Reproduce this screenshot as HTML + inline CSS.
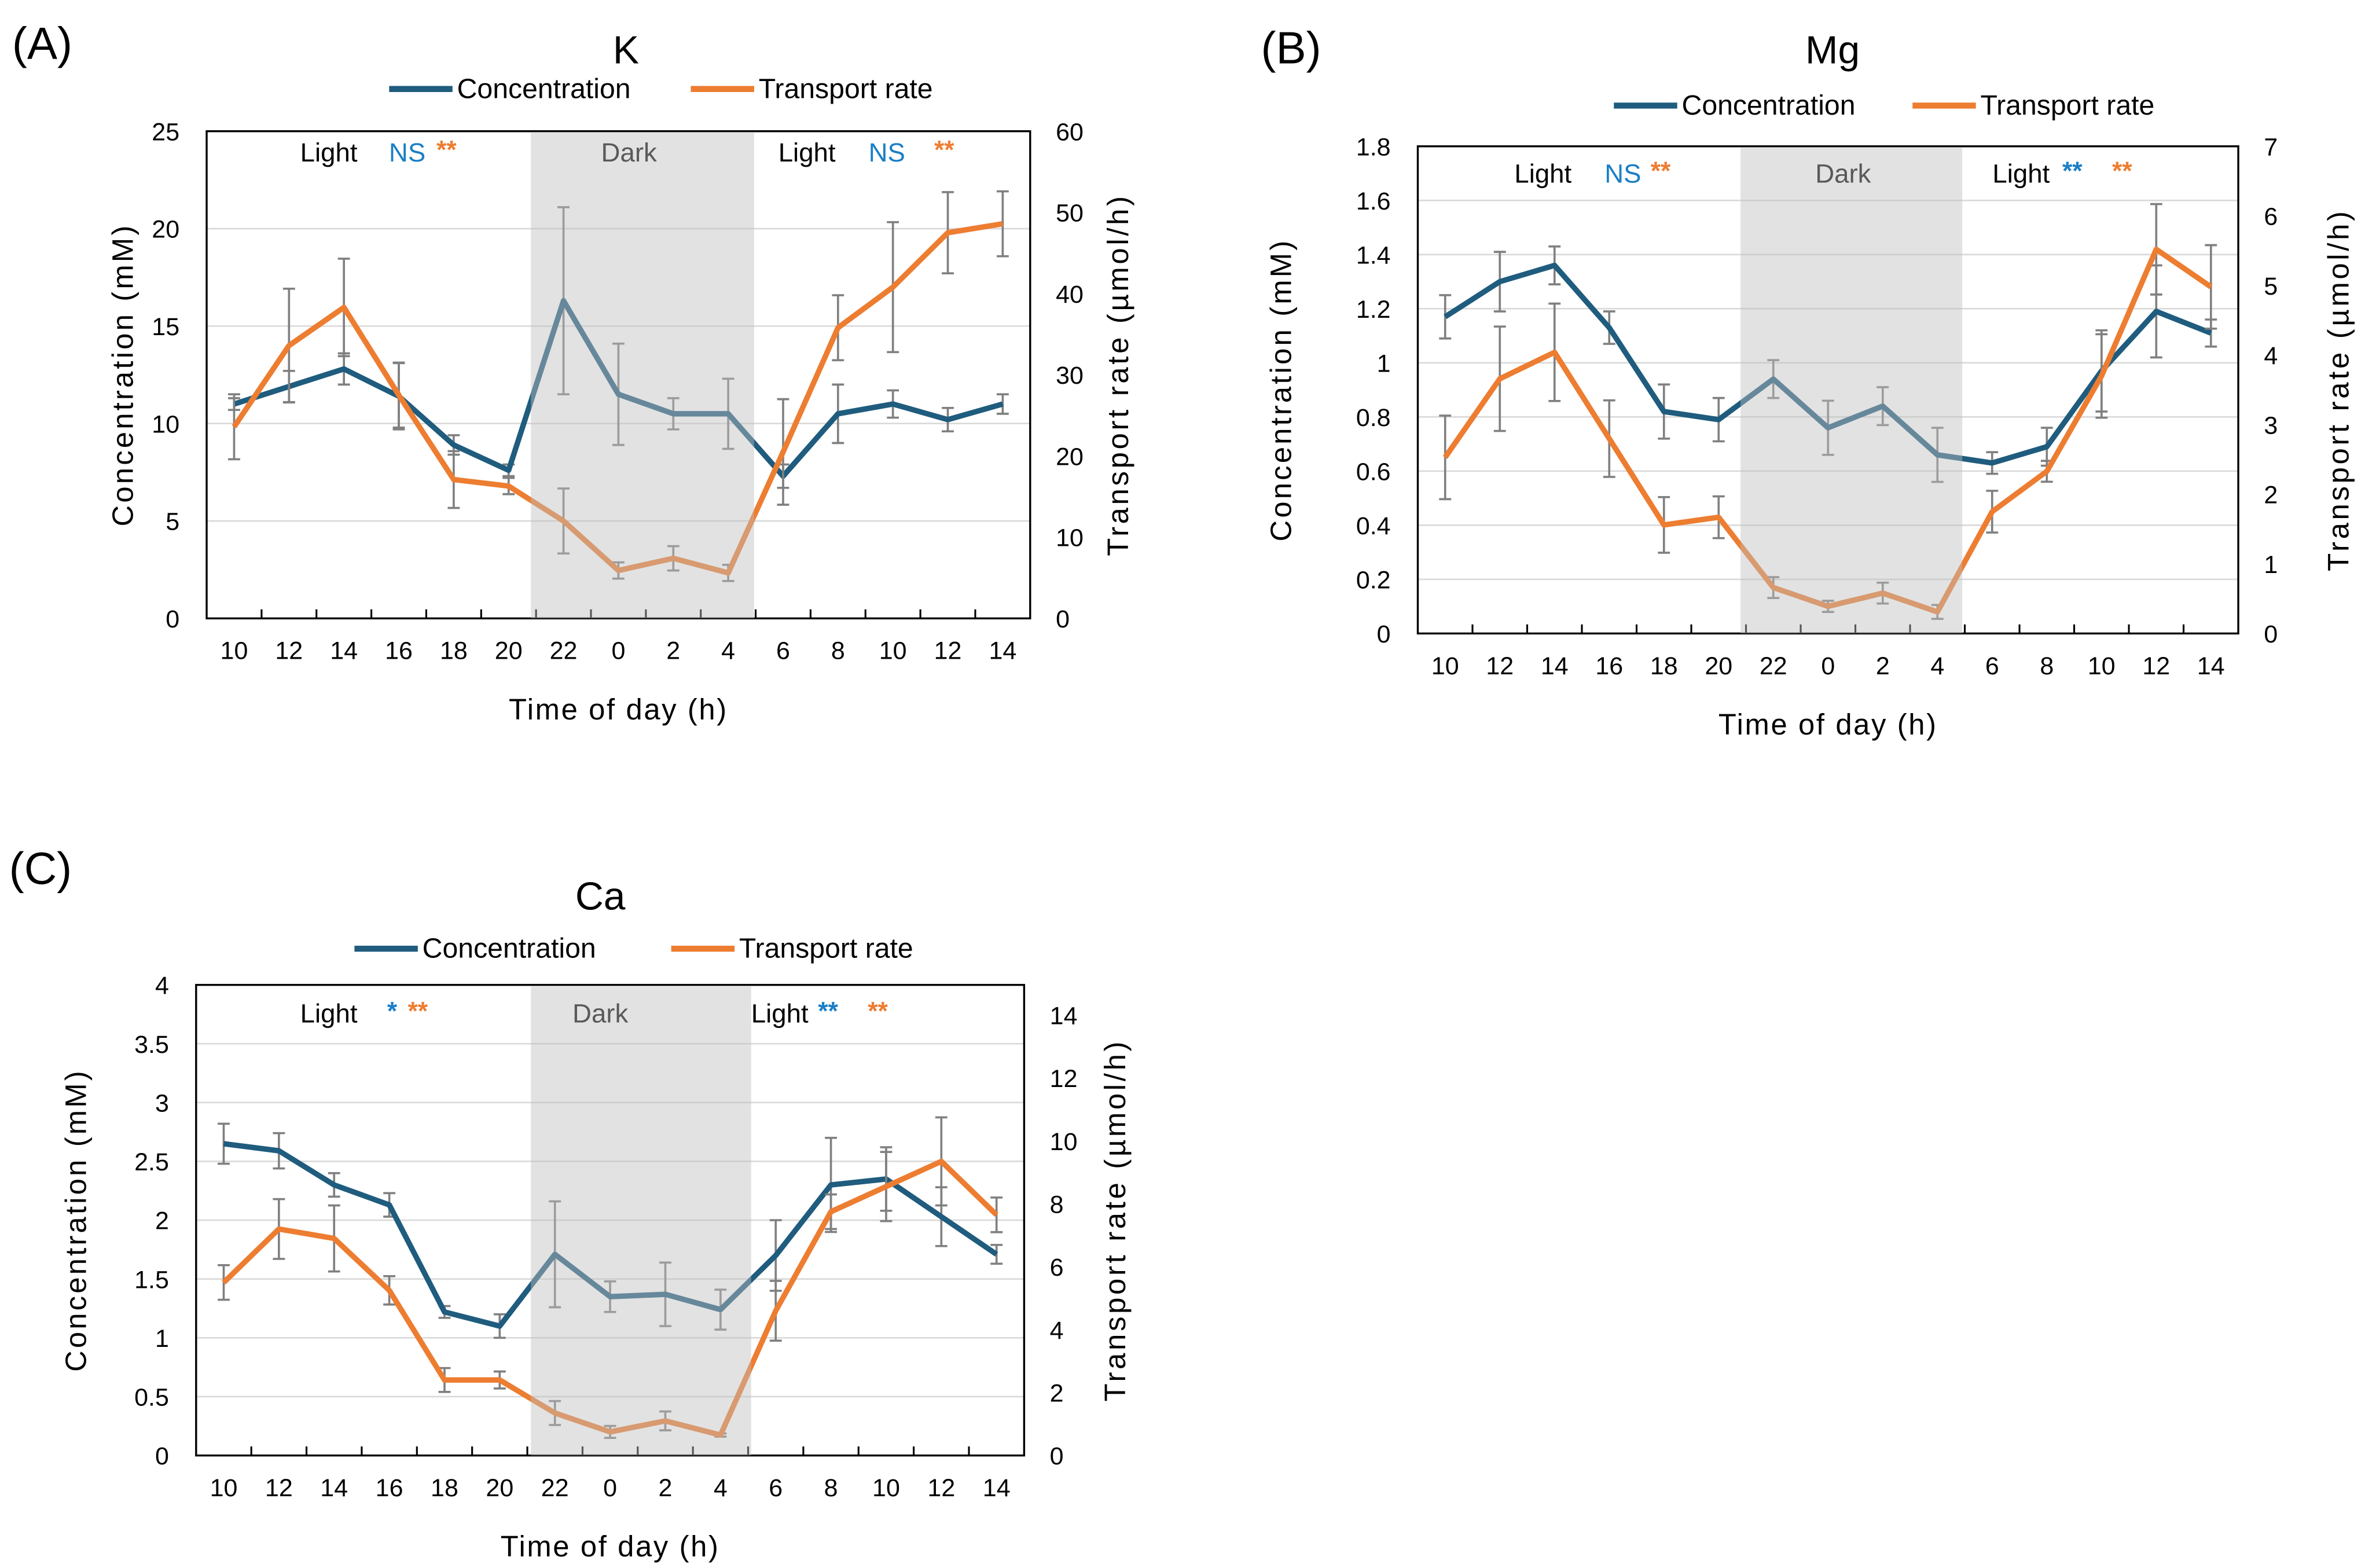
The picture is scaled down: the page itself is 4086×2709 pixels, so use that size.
<!DOCTYPE html>
<html><head><meta charset="utf-8"><style>
html,body{margin:0;padding:0;background:#fff}
svg{display:block}
text{font-family:"Liberation Sans",sans-serif}
</style></head><body>
<svg id="fig" width="4086" height="2709" viewBox="0 0 1568 1039.6" xmlns="http://www.w3.org/2000/svg"></svg>
<script>
const categories=["10","12","14","16","18","20","22","0","2","4","6","8","10","12","14"];
const kConc=[11.0,11.9,12.8,11.4,8.9,7.6,16.3,11.5,10.5,10.5,7.3,10.5,11.0,10.2,11.0];
const kConcErr=[0.3,0.8,0.8,1.7,0.5,0.3,4.8,2.6,0.8,1.8,0.6,1.5,0.7,0.6,0.5];
const kRate=[23.6,33.6,38.3,27.5,17.1,16.3,12.0,5.9,7.4,5.6,20.5,35.8,40.8,47.5,48.6];
const kRateErr=[4,7,6,4,3.5,1,4,1,1.5,1,6.5,4,8,5,4];
const mgConc=[1.17,1.30,1.36,1.13,0.82,0.79,0.94,0.76,0.84,0.66,0.63,0.69,0.97,1.19,1.11];
const mgConcErr=[0.08,0.11,0.07,0.06,0.1,0.08,0.07,0.1,0.07,0.1,0.04,0.07,0.15,0.17,0.05];
const mgRate=[2.53,3.66,4.04,2.8,1.56,1.67,0.66,0.39,0.58,0.31,1.75,2.33,3.7,5.52,4.98];
const mgRateErr=[0.6,0.75,0.7,0.55,0.4,0.3,0.15,0.08,0.15,0.1,0.3,0.15,0.6,0.65,0.6];
const caConc=[2.65,2.59,2.30,2.13,1.22,1.10,1.71,1.35,1.37,1.24,1.70,2.30,2.35,2.03,1.71];
const caConcErr=[0.17,0.15,0.1,0.1,0.05,0.1,0.45,0.13,0.27,0.17,0.3,0.4,0.27,0.25,0.08];
const caRate=[5.5,7.2,6.9,5.25,2.4,2.4,1.35,0.75,1.1,0.65,4.6,7.75,8.55,9.35,7.65];
const caRateErr=[0.55,0.95,1.05,0.45,0.38,0.27,0.38,0.19,0.3,0.05,0.95,0.55,1.1,1.4,0.55];
const kLeftTicks=["0","5","10","15","20","25"], kRightTicks=["0","10","20","30","40","50","60"];
const mgLeftTicks=["0","0.2","0.4","0.6","0.8","1","1.2","1.4","1.6","1.8"], mgRightTicks=["0","1","2","3","4","5","6","7"];
const caLeftTicks=["0","0.5","1","1.5","2","2.5","3","3.5","4"], caRightTicks=["0","2","4","6","8","10","12","14"];

const NS="http://www.w3.org/2000/svg";
const svg=document.getElementById('fig');
const BLUE="#1f5c7e",ORANGE="#ed7d31",SBLUE="#1a7fc6";
function mk(tag,attrs,parent,txt){const e=document.createElementNS(NS,tag);for(const k in attrs)e.setAttribute(k,attrs[k]);if(txt!==undefined)e.textContent=txt;(parent||svg).appendChild(e);return e;}

function panel(p){
  const g=mk('g',{});
  
  
  const W=p.x1-p.x0,H=p.y1-p.y0,n=categories.length,step=W/n;
  const xs=i=>p.x0+step*(i+0.5);
  const yl=v=>p.y1-v/p.lmax*H;
  const yr=v=>p.y1-v/p.rmax*H;
  p.lt.forEach(t=>{const v=parseFloat(t);if(v>0&&v<p.lmax){const l=mk('line',{x1:p.x0,x2:p.x1,y1:yl(v),y2:yl(v),stroke:'#d9d9d9','stroke-width':1},g);}});
  const fr=mk('rect',{x:p.x0,y:p.y0,width:W,height:H,fill:'none',stroke:'#000','stroke-width':1.3},g);
  
  for(let i=1;i<n;i++)mk('line',{x1:p.x0+step*i,x2:p.x0+step*i,y1:p.y1,y2:p.y1-6,stroke:'#000','stroke-width':1.2},g);
  p.lt.forEach(t=>{const e=mk('text',{x:p.x0-18,y:yl(parseFloat(t))+6,'text-anchor':'end','font-size':16.5},g,t);});
  p.rt.forEach(t=>{const e=mk('text',{x:p.x1+17,y:yr(parseFloat(t))+6,'text-anchor':'start','font-size':16.5},g,t);});
  categories.forEach((c,i)=>{const e=mk('text',{x:xs(i),y:p.y1+27,'text-anchor':'middle','font-size':16.5},g,c);});
  let e;
  e=mk('text',{x:(p.x0+p.x1)/2,y:p.y1+67,'text-anchor':'middle','font-size':19.5,'letter-spacing':1},g,'Time of day (h)');
  e=mk('text',{x:0,y:0,'text-anchor':'middle','font-size':19.5,'letter-spacing':1.6,transform:`translate(${p.ylx},${(p.y0+p.y1)/2}) rotate(-90)`},g,'Concentration (mM)');
  e=mk('text',{x:0,y:0,'text-anchor':'middle','font-size':19.5,'letter-spacing':1.8,transform:`translate(${p.yrx},${(p.y0+p.y1)/2}) rotate(-90)`},g,'Transport rate (µmol/h)');
  e=mk('text',{x:p.tx,y:p.ty,'text-anchor':'middle','font-size':26},g,p.title);
  e=mk('text',{x:p.lx,y:p.ly,'font-size':30},g,p.label);
  e=mk('line',{x1:p.leg1,x2:p.leg1+42,y1:p.legy,y2:p.legy,stroke:BLUE,'stroke-width':4},g);
  e=mk('text',{x:p.leg1+45,y:p.legy+6,'font-size':18.5},g,'Concentration');
  e=mk('line',{x1:p.leg2,x2:p.leg2+42,y1:p.legy,y2:p.legy,stroke:ORANGE,'stroke-width':4},g);
  e=mk('text',{x:p.leg2+45,y:p.legy+6,'font-size':18.5},g,'Transport rate');
  function series(vals,errs,yf,col,name){
    vals.forEach((v,i)=>{const x=xs(i),a=yf(v-errs[i]),b=yf(v+errs[i]);
      const eb=mk('path',{d:`M${x},${a}V${b}M${x-4},${a}H${x+4}M${x-4},${b}H${x+4}`,stroke:'#808080','stroke-width':1.4,fill:'none'},g);
      });
    const pl=mk('polyline',{points:vals.map((v,i)=>xs(i)+','+yf(v)).join(' '),fill:'none',stroke:col,'stroke-width':3.6,'stroke-linejoin':'round'},g);
    
  }
  series(p.cv,p.ce,yl,BLUE,'concentration');
  series(p.rv,p.re,yr,ORANGE,'transport-rate');
  e=mk('rect',{x:p.d0,y:p.y0+1,width:p.d1-p.d0,height:H-1,fill:'#bfbfbf','fill-opacity':0.45},g);
  const ay=p.ay;
  p.ann.forEach(a=>{const t=mk('text',{x:a[0],y:ay+(a[3]?4:6),'text-anchor':'middle','font-size':a[3]?17:17.5,'font-weight':a[3]?'bold':'normal',fill:a[2]},g,a[1]);});
}
panel({id:'k',x0:137,x1:683,y0:87,y1:410,lmax:25,rmax:60,lt:kLeftTicks,rt:kRightTicks,cv:kConc,ce:kConcErr,rv:kRate,re:kRateErr,
 d0:352,d1:500,title:'K',tx:415,ty:42,label:'(A)',lx:8,ly:39,leg1:258,leg2:458,legy:59,ylx:88,yrx:748,ay:101,
 ann:[[218,'Light','#000'],[270,'NS',SBLUE],[296,'**',ORANGE,1],[417,'Dark','#595959'],[535,'Light','#000'],[588,'NS',SBLUE],[626,'**',ORANGE,1]]});
panel({id:'mg',x0:940,x1:1484,y0:97,y1:420,lmax:1.8,rmax:7,lt:mgLeftTicks,rt:mgRightTicks,cv:mgConc,ce:mgConcErr,rv:mgRate,re:mgRateErr,
 d0:1154,d1:1301,title:'Mg',tx:1215,ty:42,label:'(B)',lx:836,ly:42,leg1:1070,leg2:1268,legy:70,ylx:856,yrx:1557,ay:115,
 ann:[[1023,'Light','#000'],[1076,'NS',SBLUE],[1101,'**',ORANGE,1],[1222,'Dark','#595959'],[1340,'Light','#000'],[1374,'**',SBLUE,1],[1407,'**',ORANGE,1]]});
panel({id:'ca',x0:130,x1:679,y0:653,y1:965,lmax:4,rmax:14.96,lt:caLeftTicks,rt:caRightTicks,cv:caConc,ce:caConcErr,rv:caRate,re:caRateErr,
 d0:352,d1:498,title:'Ca',tx:398,ty:603,label:'(C)',lx:6,ly:586,leg1:235,leg2:445,legy:629,ylx:57,yrx:746,ay:672,
 ann:[[218,'Light','#000'],[260,'*',SBLUE,1],[277,'**',ORANGE,1],[398,'Dark','#595959'],[517,'Light','#000'],[549,'**',SBLUE,1],[582,'**',ORANGE,1]]});
</script>
</body></html>
